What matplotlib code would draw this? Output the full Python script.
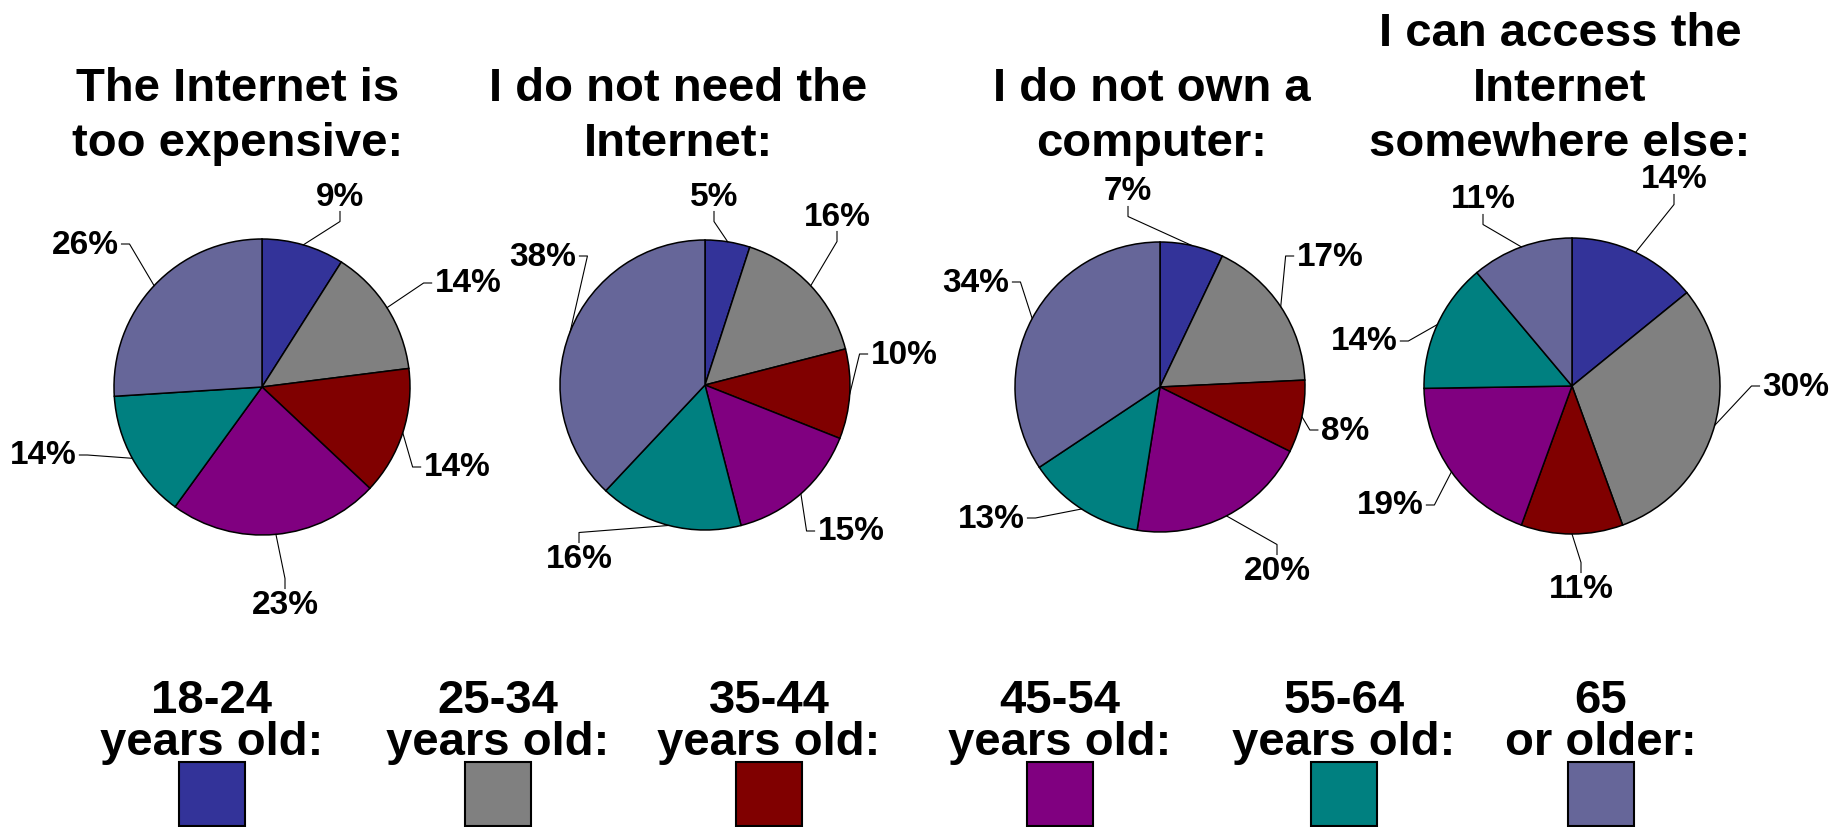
import numpy as np
import matplotlib.pyplot as plt
from matplotlib.patches import Rectangle

plt.rcParams['font.family'] = ['Liberation Sans', 'DejaVu Sans']
plt.rcParams['font.weight'] = 'bold'

# data
groups = ['18-24\nyears old:', '25-34\nyears old:', '35-44\nyears old:',
          '45-54\nyears old:', '55-64\nyears old:', '65\nor older:']
colors = ['#333399', '#808080', '#800000', '#800080', '#008080', '#666699']

titles = ['The Internet is\ntoo expensive:',
          'I do not need the\nInternet:',
          'I do not own a\ncomputer:',
          'I can access the\nInternet\nsomewhere else:']
too_expensive = [9, 14, 14, 23, 14, 26]
no_need = [5, 16, 10, 15, 16, 38]
no_computer = [7, 17, 8, 20, 13, 34]
elsewhere = [14, 30, 11, 19, 14, 11]
series = [too_expensive, no_need, no_computer, elsewhere]

# layout (pixels, y measured from top)
W, H = 1837, 828
pie_centers = [(262, 388), (705, 386), (1160, 388), (1572, 387)]
pie_radius = [148, 145, 145, 148]
title_x = [238, 678, 1152, 1560]
label_pos = [
    [(340, 197), (468, 284), (457, 468), (285, 605), (43, 456), (85, 245)],
    [(714, 197), (837, 217), (904, 355), (851, 532), (579, 559), (543, 257)],
    [(1128, 192), (1330, 257), (1345, 431), (1277, 571), (991, 519), (976, 283)],
    [(1674, 180), (1796, 387), (1581, 589), (1390, 506), (1364, 342), (1483, 200)],
]
legend_x = [212, 498, 769, 1060, 1344, 1601]

fig = plt.figure(figsize=(W / 100, H / 100), dpi=100)
ax = fig.add_axes([0, 0, 1, 1])
renderer = fig.canvas.get_renderer()

for i, vals in enumerate(series):
    cx, cy = pie_centers[i]
    r = pie_radius[i]
    wedges, _ = ax.pie(vals, colors=colors, startangle=90, counterclock=False,
                       center=(cx, H - cy), radius=r,
                       wedgeprops=dict(edgecolor='black', linewidth=1.1))
    ax.text(title_x[i], H - 166, titles[i], ha='center', va='bottom',
            fontsize=34, linespacing=1.32)
    for w, v, (lx, ly) in zip(wedges, vals, label_pos[i]):
        t = ax.text(lx, H - ly, f'{v}%', ha='center', va='center', fontsize=24)
        bb = t.get_window_extent(renderer)
        hw, hh = bb.width / 2, bb.height / 2 - 4
        m = np.deg2rad((w.theta1 + w.theta2) / 2)
        ex, ey = cx + r * np.cos(m), (H - cy) + r * np.sin(m)
        dx, dy = lx - cx, (H - ly) - (H - cy)
        if abs(dy) > 1.2 * abs(dx):
            sgn = -1 if dy > 0 else 1
            px, py = lx, H - ly + sgn * (hh + 4)
            qx, qy = px, py + sgn * 10
        else:
            sgn = -1 if dx > 0 else 1
            px, py = lx + sgn * (hw + 3), H - ly
            qx, qy = px + sgn * 8, py
        ax.plot([ex, qx, px], [ey, qy, py], color='black', lw=0.8)

for i, lab in enumerate(groups):
    x = legend_x[i]
    ax.add_patch(Rectangle((x - 33, H - 827), 66, 64, facecolor=colors[i],
                           edgecolor='black', linewidth=1.5))
    ax.text(x, H - 765, lab, ha='center', va='bottom', fontsize=34,
            linespacing=0.95)

ax.set_xlim(0, W)
ax.set_ylim(0, H)
ax.set_aspect('auto')
ax.axis('off')

fig.savefig('out.png', dpi=100, facecolor='white')
